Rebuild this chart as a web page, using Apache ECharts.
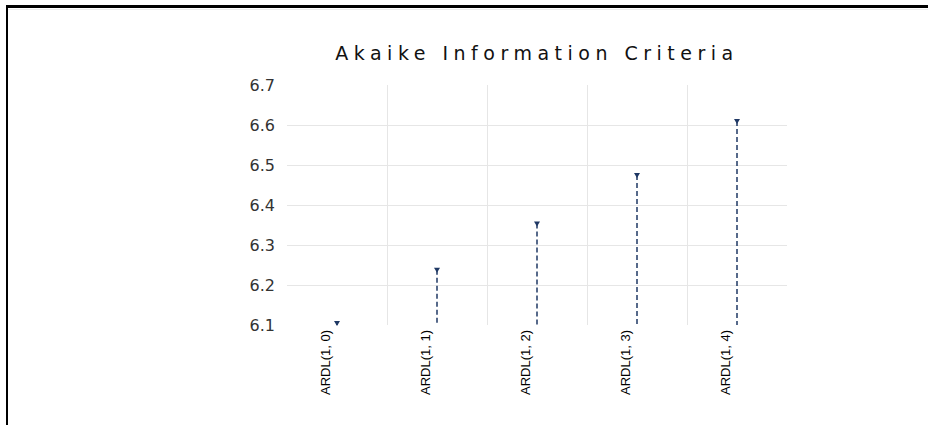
<!DOCTYPE html>
<html>
<head>
<meta charset="utf-8">
<script src="https://cdn.jsdelivr.net/npm/echarts@6/dist/echarts.min.js"></script>
<style>
  html, body { margin: 0; padding: 0; background: #fff; }
  #chart { width: 928px; height: 425px; }
  #chart text[style*="19px"] { letter-spacing: 5.5px; }
</style>
</head>
<body>
<div id="chart"></div>
<script>
const categories = ['ARDL(1, 0)', 'ARDL(1, 1)', 'ARDL(1, 2)', 'ARDL(1, 3)', 'ARDL(1, 4)'];
const aicValues = [6.105, 6.238, 6.354, 6.475, 6.61];
const yTicks = [6.1, 6.2, 6.3, 6.4, 6.5, 6.6, 6.7];
const chartTitle = 'Akaike Information Criteria';

const yMin = yTicks[0];
const yMax = yTicks[yTicks.length - 1];

const chart = echarts.init(document.getElementById('chart'), null, { renderer: 'svg' });

chart.setOption({
  backgroundColor: '#ffffff',
  animation: false,
  title: {
    text: chartTitle,
    left: 532,
    top: 38,
    textAlign: 'center',
    textStyle: { fontFamily: 'DejaVu Sans', fontSize: 19, fontWeight: 'normal', color: '#111' }
  },
  graphic: [
    { type: 'rect', shape: { x: 6, y: 5, width: 922, height: 3 }, style: { fill: '#000' }, silent: true },
    { type: 'rect', shape: { x: 6, y: 5, width: 2, height: 420 }, style: { fill: '#000' }, silent: true },
    { type: 'rect', shape: { x: 8, y: 9, width: 920, height: 1 }, style: { fill: '#eeeeee' }, silent: true }
  ],
  grid: { left: 287, right: 141, top: 85, bottom: 100, containLabel: false },
  xAxis: {
    type: 'category',
    data: categories,
    boundaryGap: true,
    axisLine: { show: false },
    axisTick: { show: false },
    axisLabel: {
      rotate: 90,
      margin: 5,
      fontFamily: 'Liberation Sans',
      fontSize: 13,
      color: '#000',
      verticalAlign: 'bottom',
      lineHeight: 24
    },
    splitLine: { show: true, showMinLine: false, showMaxLine: false, lineStyle: { color: '#e6e6e6', width: 1 } }
  },
  yAxis: {
    type: 'value',
    min: yMin,
    max: yMax,
    interval: 0.1,
    axisLine: { show: false },
    axisTick: { show: false },
    axisLabel: {
      margin: 12,
      fontFamily: 'DejaVu Sans',
      fontSize: 16,
      color: '#333',
      formatter: v => v.toFixed(1)
    },
    splitLine: { show: true, showMinLine: false, showMaxLine: false, lineStyle: { color: '#e6e6e6', width: 1 } }
  },
  series: [{
    type: 'custom',
    data: aicValues.map((v, i) => [i, v]),
    encode: { x: 0, y: 1 },
    renderItem: function (params, api) {
      const top = api.coord([api.value(0), api.value(1)]);
      const base = api.coord([api.value(0), yMin]);
      const s = 3;
      return {
        type: 'group',
        children: [
          {
            type: 'line',
            shape: { x1: top[0], y1: top[1], x2: base[0], y2: base[1] },
            style: { stroke: '#1f3864', lineWidth: 1.5, lineDash: [5, 3] }
          },
          {
            type: 'polygon',
            shape: { points: [[top[0] - s, top[1] - 2], [top[0] + s, top[1] - 2], [top[0], top[1] + 3]] },
            style: { fill: '#1f3864' }
          }
        ]
      };
    }
  }]
});
</script>
</body>
</html>
